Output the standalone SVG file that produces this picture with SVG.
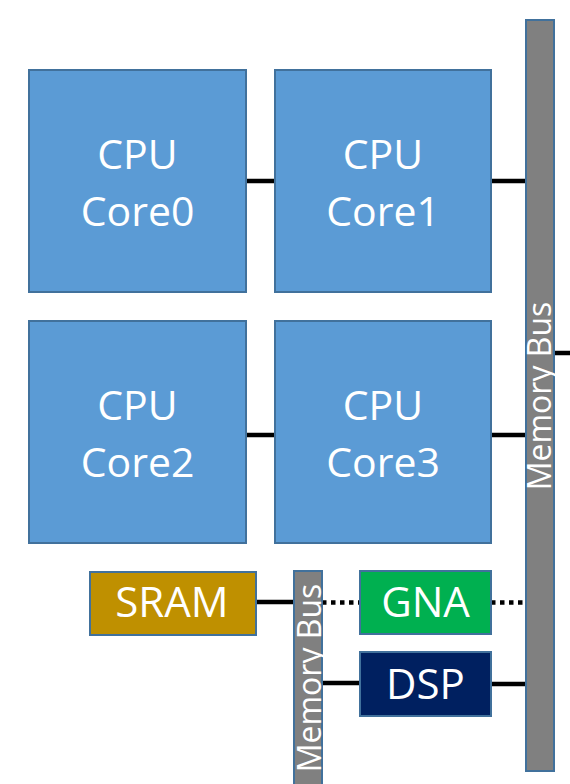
<svg xmlns="http://www.w3.org/2000/svg" width="570" height="784" viewBox="0 0 570 784">
<style>
.box{stroke:#41719C;stroke-width:2}
.cpu{fill:#5B9BD5}
.bus{fill:#808080}
.t{font-family:"Open Sans","Liberation Sans",sans-serif;fill:#FFFFFF;text-anchor:middle}
.big{font-size:41px}
.sm{font-size:42px}
.bt{font-size:32px}
.ln{stroke:#000;stroke-width:4.5;fill:none}
.dot{stroke:#000;stroke-width:4.5;fill:none;stroke-dasharray:4.5 4.5}
</style>
<rect width="570" height="784" fill="#FFFFFF"/>
<g id="connectors">
<line class="ln" x1="246" y1="181" x2="275" y2="181"/>
<line class="ln" x1="491" y1="181" x2="526" y2="181"/>
<line class="ln" x1="246" y1="435" x2="275" y2="435"/>
<line class="ln" x1="491" y1="435" x2="526" y2="435"/>
<line class="ln" x1="554" y1="353" x2="570" y2="353"/>
<line class="ln" x1="256" y1="602" x2="294" y2="602"/>
<line class="dot" x1="322" y1="602.5" x2="360" y2="602.5"/>
<line class="dot" x1="491" y1="602.5" x2="526" y2="602.5"/>
<line class="ln" x1="322" y1="683" x2="360" y2="683"/>
<line class="ln" x1="491" y1="684" x2="526" y2="684"/>
</g>
<g id="bus_main">
<rect class="box bus" x="526" y="20" width="28" height="751"/>
<text class="t bt" transform="translate(551,396) rotate(-90)">Memory Bus</text>
</g>
<g id="bus_small">
<rect class="box bus" x="294" y="571" width="28" height="230"/>
<text class="t bt" transform="translate(321,678) rotate(-90)">Memory Bus</text>
</g>
<g id="core0">
<rect class="box cpu" x="29" y="70" width="217" height="222"/>
<text class="t big" x="137.5" y="169">CPU</text>
<text class="t big" x="137.5" y="226">Core0</text>
</g>
<g id="core1">
<rect class="box cpu" x="275" y="70" width="216" height="222"/>
<text class="t big" x="383" y="169">CPU</text>
<text class="t big" x="383" y="226">Core1</text>
</g>
<g id="core2">
<rect class="box cpu" x="29" y="321" width="217" height="222"/>
<text class="t big" x="137.5" y="420">CPU</text>
<text class="t big" x="137.5" y="477">Core2</text>
</g>
<g id="core3">
<rect class="box cpu" x="275" y="321" width="216" height="222"/>
<text class="t big" x="383" y="420">CPU</text>
<text class="t big" x="383" y="477">Core3</text>
</g>
<g id="sram">
<rect class="box" fill="#BF9000" x="90" y="572" width="166" height="63"/>
<text class="t sm" x="172" y="617">SRAM</text>
</g>
<g id="gna">
<rect class="box" fill="#00B050" x="360" y="571" width="131" height="63"/>
<text class="t sm" x="425.5" y="617">GNA</text>
</g>
<g id="dsp">
<rect class="box" fill="#002060" x="360" y="652" width="131" height="64"/>
<text class="t sm" x="425.5" y="699">DSP</text>
</g>
</svg>
